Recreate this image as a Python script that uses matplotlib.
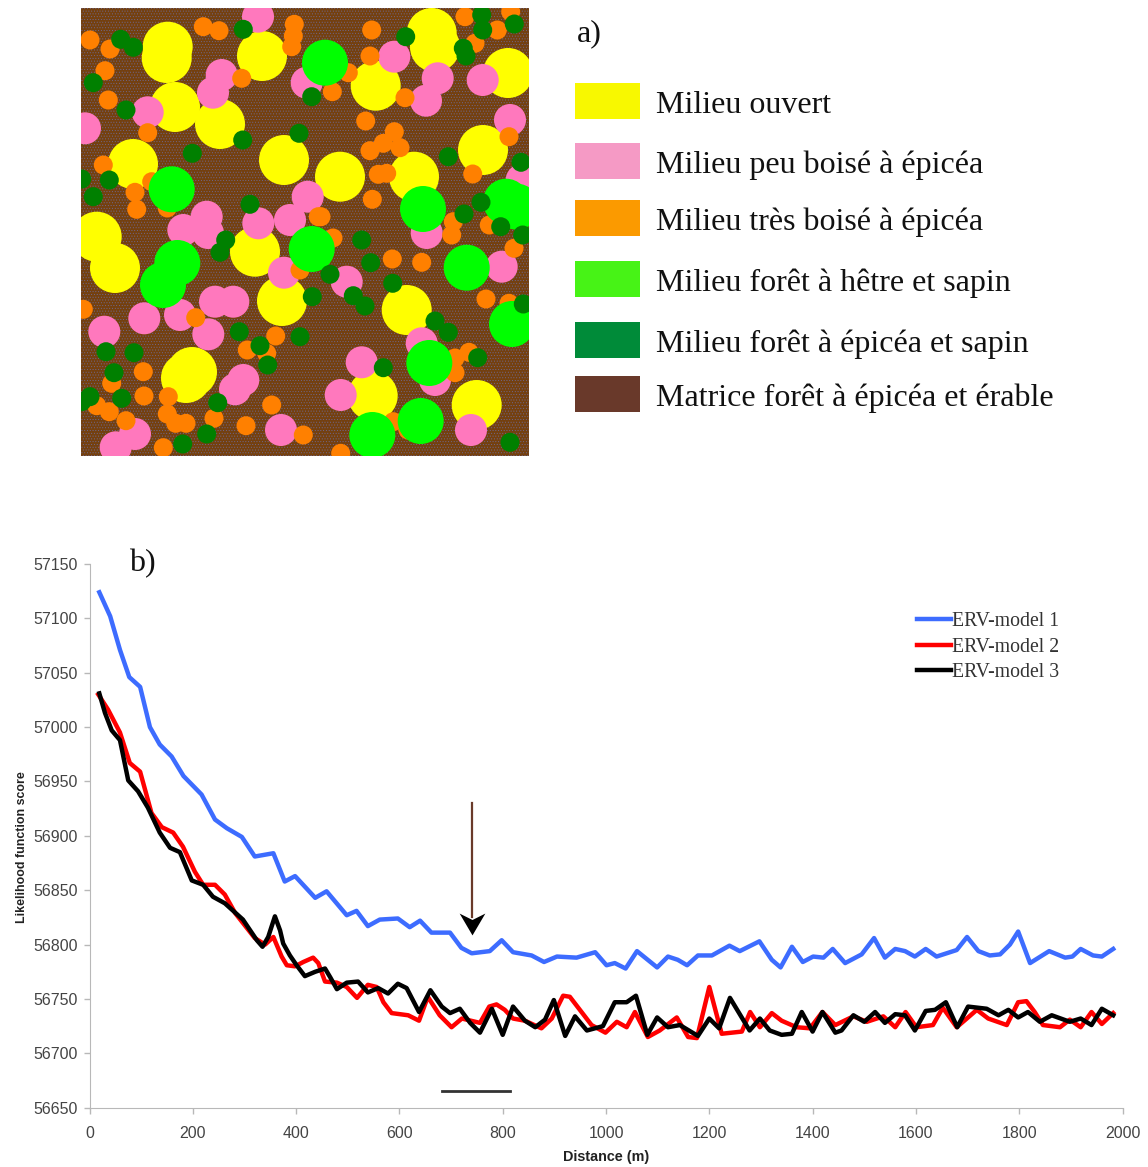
import matplotlib
matplotlib.use('Agg')
from matplotlib import pyplot as plt
from matplotlib.patches import Circle, Rectangle

# ---- panel a: circle centres, read in picture pixels
yellow_xy = [(167.7, 46.7), (166.7, 58), (175, 107), (220, 124), (262, 56), (133, 164), (284, 160),
             (96.7, 236.7), (431.7, 33), (435, 47), (508, 73), (375.7, 85.7), (483, 150), (340, 176.7),
             (414, 176.7), (115, 268), (255, 251.7), (282, 301), (192, 372), (186, 378), (406.7, 310),
             (372.7, 395.7), (476.7, 405)]
pink_xy = [(258, 16.7), (221.7, 75), (213, 92.7), (147.7, 112.3), (85, 128.3), (306.7, 82.7), (307.7, 196.7),
           (290, 220), (206.7, 216.7), (183.3, 230), (258.3, 223.3), (208, 233), (394.3, 56.7), (437.7, 78.3),
           (426, 100.7), (482.7, 80), (510, 120), (521.7, 180), (426.7, 233), (284, 272.7), (215, 301.7),
           (233.3, 301.7), (180, 315), (144.3, 318.3), (104.3, 331.7), (208.3, 334.3), (243.3, 380), (235, 389.3),
           (281, 430), (135, 434), (115.7, 447.3), (346.7, 281.7), (421.7, 343.3), (435, 380), (501.7, 266.7),
           (361.7, 362.3), (340.7, 395), (471, 430)]
orange_xy = [(90, 40), (110, 49), (105, 70.7), (108.3, 100), (147.7, 132.7), (103.3, 165), (135, 192.3),
             (136.7, 209.3), (203.3, 26.7), (219, 30.7), (294.3, 24.3), (293.3, 36), (291.7, 46.7), (241.7, 78.3),
             (167.3, 208), (151.7, 181.7), (318.3, 216.7), (371.7, 30), (370, 56), (465, 16.7), (510.7, 11.7),
             (497.3, 30), (475, 43.3), (348.3, 72.7), (332.3, 91.7), (405, 97.7), (365.7, 121), (394.3, 131.7),
             (383.3, 143.3), (400, 147.7), (370, 150.7), (378.3, 174.3), (386.7, 173.3), (372.3, 199.3), (321, 216.7),
             (472.7, 174), (509, 136.7), (453.3, 221.7), (451.7, 235), (489.3, 225), (333, 238), (83.3, 309.3),
             (195.7, 317.7), (275.7, 336), (247.3, 350), (266.7, 353.3), (143.3, 371.7), (111.7, 383.3), (144, 396),
             (168.3, 396.7), (96.7, 405.7), (109.3, 411.7), (126, 420.7), (167.3, 414), (175.7, 423.3), (186, 423.3),
             (214, 418.3), (246, 425.7), (271.7, 405), (303.3, 435), (163.3, 447.7), (300, 270), (392.3, 259),
             (421.7, 262.3), (514, 248.3), (486, 299), (509, 303.3), (469, 352.3), (455, 358), (455, 372.7),
             (393.3, 421.7), (408, 430), (340.7, 453.3)]
lime_xy = [(325, 62.7), (423, 209), (506, 201.7), (516.7, 206.7), (171.7, 189.3), (177.3, 263), (163, 285),
           (311.7, 249), (466.7, 267.7), (512, 324), (429.3, 363), (420.7, 421), (372.3, 435)]
green_xy = [(120.7, 39.3), (133.3, 47.3), (93.3, 82.7), (126, 110), (243.3, 29.3), (311.7, 96.7), (242.7, 140),
            (299, 133.3), (192.3, 153.3), (81.7, 179), (109.3, 180), (93.3, 196.7), (250, 204.3), (225.7, 240),
            (405.7, 36.7), (481.7, 15), (482.7, 30), (514.3, 24), (463.3, 48.3), (466, 56), (448.3, 156.7),
            (521, 162.3), (481, 202.3), (464, 214), (500.7, 226.7), (522.7, 235), (361.7, 240), (220, 252.3),
            (312.3, 296.7), (239.3, 331.7), (260, 345.7), (300, 336.7), (106, 351.7), (134, 352.7), (114, 372.7),
            (267.7, 365), (90, 396.7), (81.7, 401.7), (121.7, 398.3), (217.7, 402.7), (206.7, 434), (182.7, 444),
            (370.7, 262.7), (330, 274.3), (392.7, 283.3), (353.3, 295.7), (365, 306), (435, 321), (448.3, 332.3),
            (477.7, 357.7), (383.3, 367.7), (510, 442.3), (523.3, 304)]

legend_labels = ['Milieu ouvert', 'Milieu peu boisé à épicéa', 'Milieu très boisé à épicéa',
                 'Milieu forêt à hêtre et sapin', 'Milieu forêt à épicéa et sapin',
                 'Matrice forêt à épicéa et érable']
legend_colors = ['#f8f800', '#f59ac5', '#fb9a00', '#47f316', '#008b39', '#69392a']

# ---- panel b: likelihood curves
model1_x = [19, 40, 59, 77, 98, 117, 136, 159, 182, 217, 243, 266, 295, 320, 356, 378, 398, 437, 459, 498, 517, 539,
            562, 597, 620, 640, 662, 698, 720, 740, 775, 798, 820, 856, 880, 905, 943, 979, 1001, 1017, 1038, 1060,
            1099, 1120, 1139, 1157, 1178, 1205, 1239, 1259, 1297, 1321, 1338, 1360, 1381, 1401, 1421, 1439, 1463,
            1495, 1519, 1540, 1560, 1579, 1598, 1619, 1640, 1679, 1699, 1721, 1743, 1763, 1782, 1798, 1821, 1858,
            1889, 1903, 1919, 1943, 1960, 1982]
model1_y = [57124, 57102, 57071, 57046, 57037, 57000, 56984, 56973, 56955, 56938, 56915, 56907, 56899, 56881, 56884,
            56858, 56863, 56843, 56849, 56827, 56831, 56817, 56823, 56824, 56816, 56822, 56811, 56811, 56797, 56792,
            56794, 56804, 56793, 56790, 56784, 56789, 56788, 56793, 56781, 56783, 56778, 56794, 56779, 56789, 56786,
            56781, 56790, 56790, 56799, 56794, 56803, 56786, 56779, 56798, 56784, 56789, 56788, 56796, 56783, 56791,
            56806, 56788, 56796, 56794, 56789, 56796, 56789, 56795, 56807, 56794, 56790, 56791, 56800, 56812, 56783,
            56794, 56788, 56789, 56796, 56790, 56789, 56796]

model2_x = [17, 36, 59, 78, 98, 120, 140, 162, 181, 204, 220, 243, 262, 282, 320, 340, 356, 372, 382, 398, 414, 433,
            443, 456, 479, 498, 518, 539, 556, 569, 585, 617, 638, 655, 678, 701, 721, 756, 774, 788, 804, 820, 843,
            875, 895, 917, 930, 972, 999, 1021, 1040, 1056, 1081, 1104, 1137, 1159, 1176, 1200, 1224, 1263, 1279,
            1298, 1321, 1340, 1369, 1395, 1419, 1444, 1479, 1505, 1537, 1560, 1580, 1601, 1633, 1652, 1679, 1701,
            1718, 1740, 1776, 1798, 1814, 1830, 1846, 1879, 1898, 1919, 1940, 1960, 1982]
model2_y = [57030, 57016, 56995, 56967, 56959, 56921, 56908, 56903, 56890, 56867, 56855, 56855, 56846, 56829, 56806,
            56800, 56807, 56789, 56781, 56780, 56784, 56788, 56783, 56766, 56765, 56761, 56751, 56763, 56761, 56747,
            56737, 56735, 56730, 56752, 56735, 56724, 56732, 56728, 56743, 56745, 56740, 56732, 56730, 56723, 56732,
            56753, 56752, 56726, 56719, 56729, 56724, 56738, 56715, 56721, 56733, 56715, 56714, 56761, 56718, 56720,
            56738, 56724, 56737, 56730, 56724, 56723, 56738, 56726, 56734, 56729, 56734, 56724, 56738, 56724, 56726,
            56742, 56724, 56733, 56740, 56732, 56726, 56747, 56748, 56738, 56726, 56724, 56731, 56724, 56738, 56727,
            56737]

model3_x = [19, 30, 43, 59, 75, 94, 113, 136, 156, 175, 198, 220, 239, 262, 297, 324, 335, 346, 359, 369, 375, 388,
            401, 417, 437, 456, 466, 479, 498, 520, 539, 559, 578, 597, 614, 638, 660, 682, 698, 717, 737, 756, 779,
            800, 820, 843, 863, 882, 899, 921, 940, 963, 994, 1017, 1040, 1058, 1080, 1099, 1120, 1143, 1178, 1200,
            1219, 1240, 1278, 1298, 1317, 1340, 1360, 1379, 1400, 1419, 1444, 1456, 1479, 1500, 1521, 1540, 1560,
            1579, 1598, 1619, 1637, 1658, 1680, 1701, 1737, 1760, 1779, 1798, 1817, 1840, 1863, 1898, 1919, 1940,
            1960, 1982]
model3_y = [57031, 57013, 56997, 56988, 56951, 56941, 56926, 56903, 56889, 56885, 56859, 56855, 56844, 56838, 56823,
            56804, 56798, 56807, 56826, 56813, 56801, 56790, 56781, 56771, 56775, 56778, 56770, 56759, 56765, 56766,
            56756, 56760, 56755, 56764, 56760, 56738, 56758, 56743, 56737, 56741, 56728, 56719, 56741, 56717, 56743,
            56730, 56724, 56731, 56749, 56716, 56734, 56721, 56725, 56747, 56747, 56753, 56717, 56733, 56724, 56726,
            56716, 56732, 56723, 56751, 56721, 56732, 56721, 56717, 56718, 56738, 56720, 56738, 56719, 56721, 56735,
            56729, 56738, 56728, 56736, 56735, 56721, 56739, 56740, 56747, 56724, 56743, 56741, 56735, 56740, 56733,
            56738, 56729, 56735, 56729, 56732, 56726, 56741, 56735]

x_ticks = [0, 200, 400, 600, 800, 1000, 1200, 1400, 1600, 1800, 2000]
y_ticks = [56650, 56700, 56750, 56800, 56850, 56900, 56950, 57000, 57050, 57100, 57150]

plt.rcParams['hatch.linewidth'] = 0.35
W, H = 1148, 1167
fig = plt.figure(figsize=(W / 100, H / 100), dpi=100)

# top left map, axes units are picture pixels
ax_map = fig.add_axes([81 / W, 1 - 456 / H, 448 / W, 448 / H])
ax_map.set_xlim(81, 529)
ax_map.set_ylim(456, 8)
ax_map.axis('off')
ax_map.add_patch(Rectangle((81, 8), 448, 448, facecolor='#74400f', edgecolor='#6f6a95', hatch='......', lw=0))
for centres, colour, radius in [(yellow_xy, '#ffff00', 25), (pink_xy, '#ff78bd', 16), (orange_xy, '#ff8000', 9.5),
                                (lime_xy, '#00ff00', 23), (green_xy, '#008000', 9.5)]:
    for c in centres:
        ax_map.add_patch(Circle(c, radius, facecolor=colour, edgecolor='none'))

# overlay for the key and panel letters
ax_top = fig.add_axes([0, 0, 1, 1])
ax_top.set_xlim(0, W)
ax_top.set_ylim(H, 0)
ax_top.axis('off')
key_top = [83.3, 142.7, 200, 260.7, 321.7, 376]
key_base = [112.7, 172.7, 230, 291, 352, 406]
for label, colour, top, base in zip(legend_labels, legend_colors, key_top, key_base):
    ax_top.add_patch(Rectangle((575, top), 65, 36, facecolor=colour, edgecolor='none'))
    ax_top.text(656, base, label, family='Liberation Serif', fontsize=23, color='#111111', va='baseline')
ax_top.text(577, 41.7, 'a)', family='Liberation Serif', fontsize=23, color='#111111', va='baseline')
ax_top.text(129, 571, 'b)', family='Liberation Serif', fontsize=23, color='#111111', va='baseline')

# likelihood plot
ax = fig.add_axes([89.5 / W, 1 - 1107.7 / H, 1033 / W, 543.7 / H])
ax.patch.set_alpha(0)
ax.plot(model1_x, model1_y, color='#3d6cff', lw=3.2, label='ERV-model 1', solid_joinstyle='round')
ax.plot(model2_x, model2_y, color='#ff0000', lw=3.2, label='ERV-model 2', solid_joinstyle='round')
ax.plot(model3_x, model3_y, color='#000000', lw=3.2, label='ERV-model 3', solid_joinstyle='round')
ax.set_xlim(0, 2000)
ax.set_ylim(56650, 57150)
ax.set_xticks(x_ticks)
ax.set_yticks(y_ticks)
ax.tick_params(axis='both', color='#b8b8b8', labelcolor='#444444', labelsize=11.5, length=4, width=1, pad=9)
ax.tick_params(axis='y', pad=4.5)
for side in ['top', 'right']:
    ax.spines[side].set_visible(False)
for side in ['left', 'bottom']:
    ax.spines[side].set_color('#b8b8b8')
for t in ax.get_xticklabels() + ax.get_yticklabels():
    t.set_family('Liberation Sans')
ax.set_xlabel('Distance (m)', family='Liberation Sans', fontweight='bold', fontsize=10.4, color='#222222', labelpad=7)
ax.set_ylabel('Likelihood function score', family='Liberation Sans', fontweight='bold', fontsize=8.9,
              color='#222222', labelpad=3.5)
ax.yaxis.label.set_y(1 - (847 - 564) / 543.7)

# arrow and scale bar
ax.plot([740, 740], [56930, 56825], color='#6a3a2a', lw=1.6)
ax.plot([740], [56819], marker=[(-1, 0.85), (0, 0.35), (1, 0.85), (0, -0.85)], ms=18.5, color='black', mew=0)
ax.plot([682, 815], [56665.6, 56665.6], color='#333333', lw=2)

leg = ax.legend(loc='upper left', bbox_to_anchor=(0.801, 0.911), frameon=False, handlelength=1.73, handletextpad=0.05,
                labelspacing=0.32, borderpad=0, borderaxespad=0,
                prop={'family': 'Liberation Serif', 'size': 14.2})
for t in leg.get_texts():
    t.set_color('#333333')

fig.savefig('out.png', dpi=100)
